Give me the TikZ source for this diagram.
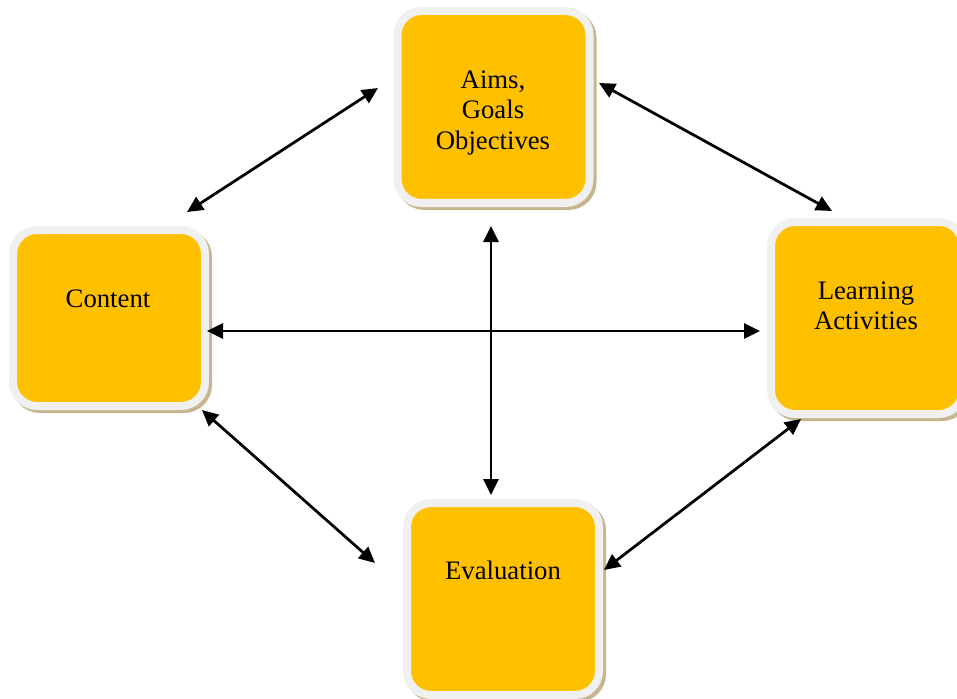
\documentclass[tikz,border=0pt]{standalone}
\usepackage{fontspec}
\setmainfont{Liberation Serif}
\usetikzlibrary{arrows.meta,shadows}

\definecolor{boxfill}{HTML}{FFC000}
\definecolor{boxrim}{HTML}{F0F0F0}
\definecolor{boxshade}{HTML}{C6B68E}

\tikzset{
	box/.style={rectangle, rounded corners=0.48cm, fill=boxfill, draw=boxrim,
		line width=0.16cm, minimum width=3.84cm, minimum height=3.84cm,
		drop shadow={shadow xshift=0.06cm, shadow yshift=-0.06cm, opacity=1,
			fill=boxshade, draw=boxshade, line width=0.16cm}},
	lbl/.style={align=center, font=\fontsize{15.2}{17.2}\selectfont},
	link/.style={{Triangle[length=0.32cm,width=0.3cm]}-{Triangle[length=0.32cm,width=0.3cm]},
		line width=0.055cm},
}

\begin{document}
\begin{tikzpicture}
\useasboundingbox (0,0) rectangle (19.14,13.96);

\path (9.87,11.82) node[box] (aims) {}
		(2.18,7.60) node[box, minimum height=3.52cm] (cont) {}
		(17.34,7.60) node[box] (learn) {}
		(10.06,1.98) node[box] (eval) {}
		(9.86,11.70) node[lbl] (aims-t) {Aims,\\Goals\\Objectives}
		(2.16,7.99) node[lbl] (cont-t) {Content}
		(17.32,7.85) node[lbl] (learn-t) {Learning\\Activities}
		(10.06,2.56) node[lbl] (eval-t) {Evaluation};

\draw[link] ([shift={(-0.44,0.28)}]cont.north east) -- ([shift={(-0.31,0.38)}]aims.west);
\draw[link] ([shift={(0.11,0.48)}]aims.east) -- ([shift={(-0.70,0.14)}]learn.north);
\draw[link] ([shift={(-0.04,-0.26)}]cont.east) -- ([shift={(-0.14,-0.26)}]learn.west);
\draw[link] ([shift={(-0.05,-0.38)}]aims.south) -- ([shift={(-0.24,0.08)}]eval.north);
\draw[link] ([shift={(-0.14,0)}]cont.south east) -- ([shift={(-0.56,0.72)}]eval.west);
\draw[link] ([shift={(0.68,-0.02)}]learn.south west) -- ([shift={(0.02,0.58)}]eval.east);
\end{tikzpicture}
\end{document}
